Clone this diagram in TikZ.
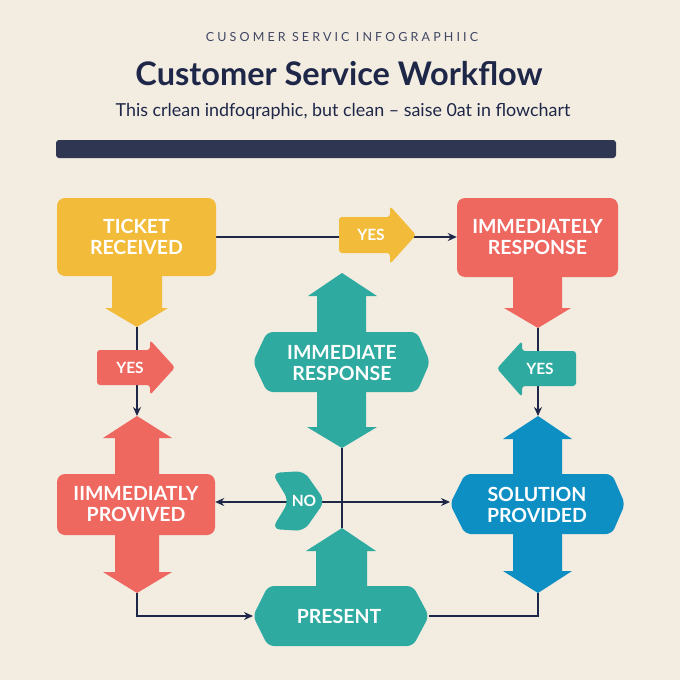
\documentclass[tikz,border=0pt]{standalone}
\usepackage{fontspec}
\setmainfont{Lato}
\newfontfamily\kickerfont[LetterSpace=25]{Lato}
\usetikzlibrary{arrows.meta,backgrounds}

\definecolor{paper}{HTML}{F2ECE1}
\definecolor{navy}{HTML}{1F2748}
\definecolor{barnavy}{HTML}{2E3652}
\definecolor{tyellow}{HTML}{F2BB3A}
\definecolor{tred}{HTML}{EE6860}
\definecolor{tteal}{HTML}{2FAAA0}
\definecolor{tblue}{HTML}{0D8FC4}

\tikzset{
    flowline/.style={draw=navy, line width=1.4pt},
    flowarrow/.style={flowline, -{Stealth[length=9pt,width=8pt]}},
    boxlabel/.style={text=white, align=center, font=\bfseries\fontsize{19.5}{21}\selectfont},
    taglabel/.style={text=white, font=\bfseries\fontsize{15.5}{16}\selectfont},
    roundbox/.style={rounded corners=8pt, inner sep=0pt, boxlabel}
}

\begin{document}
\begin{tikzpicture}[x=1pt,y=-1pt]
    \begin{pgfonlayer}{background}
        \fill[paper] (0,0) rectangle (680,680);
    \end{pgfonlayer}
    \useasboundingbox (0,0) rectangle (680,680);

    % header
    \node[text=navy!85, font=\kickerfont\fontsize{12.5}{13}\selectfont] (kicker) at (342,37) {CUSOMER SERVIC INFOGRAPHIIC};
    \node[text=navy, font=\bfseries\fontsize{32.5}{34}\selectfont] (title) at (339,74) {Customer Service Workflow};
    \node[text=navy, font=\fontsize{17.9}{19}\selectfont] (subtitle) at (343,111) {This crlean indfoqraphic, but clean -- saise 0at in flowchart};
    \fill[barnavy, rounded corners=3pt] (56,140) rectangle (616,158);

    % ticket received
    \fill[tyellow] 
        (112,270) -- (162,270) -- (162,308) -- (168,308) 
        -- (137,327) -- (105,308) -- (112,308) -- cycle;
    \node[roundbox, fill=tyellow, minimum width=159pt, minimum height=78pt] 
        (ticket) at (136.5,237) {TICKET\\RECEIVED};
    \fill[tyellow, rounded corners=3pt] 
        (339,217) -- (390,217) -- (390,206) -- (416,235) 
        -- (390,264) -- (390,253) -- (339,253) -- cycle;
    \node[taglabel] (yesTop) at (371,235) {YES};

    % immediately response
    \fill[tred] 
        (513,270) -- (562,270) -- (562,308) -- (571,308) 
        -- (538,328) -- (504,308) -- (513,308) -- cycle;
    \node[roundbox, fill=tred, minimum width=161pt, minimum height=79pt] 
        (response) at (537.5,237.5) {IMMEDIATELY\\RESPONSE};

    % left column
    \fill[tred, rounded corners=3pt] 
        (97,350) -- (150,350) -- (150,340) -- (175,367.5) 
        -- (150,395) -- (150,385) -- (97,385) -- cycle;
    \node[taglabel] (yesLeft) at (130,367.5) {YES};
    \fill[tred] 
        (137,416) -- (172,438) -- (159,438) -- (159,480) 
        -- (115,480) -- (115,438) -- (103,438) -- cycle;
    \fill[tred] 
        (115,530) -- (159,530) -- (159,572) -- (172,572) 
        -- (137,593) -- (103,572) -- (115,572) -- cycle;
    \node[roundbox, fill=tred, minimum width=158pt, minimum height=61pt] 
        (provived) at (136,504.5) {IIMMEDIATLY\\PROVIVED};

    % middle column
    \fill[tteal] 
        (342,273) -- (377,296) -- (366,296) -- (366,340) 
        -- (317,340) -- (317,296) -- (308,296) -- cycle;
    \fill[tteal, rounded corners=6pt] 
        (267,332) -- (417,332) -- (430,362) 
        -- (417,392) -- (267,392) -- (253,362) -- cycle;
    \fill[tteal] 
        (317,385) -- (366,385) -- (366,427) -- (377,427) 
        -- (342,448) -- (307,427) -- (317,427) -- cycle;
    \node[boxlabel] (immediate) at (342,363) {IMMEDIATE\\RESPONSE};

    \fill[tteal, rounded corners=8pt] 
        (272,473) -- (304,471) -- (325,501) 
        -- (304,531) -- (272,529) -- (289,501) -- cycle;
    \node[taglabel] (no) at (304,501) {NO};

    \fill[tteal] 
        (342,528) -- (376,551) -- (367,551) -- (367,592) 
        -- (316,592) -- (316,551) -- (306,551) -- cycle;
    \fill[tteal, rounded corners=6pt] 
        (268,586) -- (413,586) -- (429,616) 
        -- (413,646) -- (268,646) -- (253,616) -- cycle;
    \node[boxlabel] (present) at (339,616) {PRESENT};

    % right column
    \fill[tteal, rounded corners=3pt] 
        (576,351) -- (522,351) -- (522,341) -- (497,368.5) 
        -- (522,397) -- (522,386) -- (576,386) -- cycle;
    \node[taglabel] (yesRight) at (540,369) {YES};
    \fill[tblue] 
        (538,416) -- (572,439) -- (562,439) -- (562,480) 
        -- (513,480) -- (513,439) -- (503,439) -- cycle;
    \fill[tblue, rounded corners=6pt] 
        (465,474) -- (612,474) -- (625,504) 
        -- (612,534) -- (465,534) -- (450,504) -- cycle;
    \fill[tblue] 
        (513,528) -- (562,528) -- (562,571) -- (572,571) 
        -- (538,593) -- (503,571) -- (513,571) -- cycle;
    \node[boxlabel] (solution) at (537,505) {SOLUTION\\PROVIDED};

    \coordinate (ticketTip) at (137,327);
    \coordinate (responseTip) at (538,328);
    \coordinate (provivedTop) at (137,416);
    \coordinate (provivedTip) at (137,593);
    \coordinate (immediateTip) at (342,448);
    \coordinate (presentTop) at (342,528);
    \coordinate (presentW) at (253,616);
    \coordinate (presentE) at (429,616);
    \coordinate (solutionTop) at (538,416);
    \coordinate (solutionW) at (450,502);
    \coordinate (solutionTip) at (538,593);
    \coordinate (split) at (342,502);

    \begin{pgfonlayer}{background}
        \draw[flowarrow] (ticket.east) -- (ticket.east -| response.west);
        \draw[flowarrow] (ticketTip) -- (provivedTop);
        \draw[flowarrow] (responseTip) -- (solutionTop);
        \draw[flowline] (immediateTip) -- (presentTop);
        \draw[flowarrow] (split) -- (provived.east |- split);
        \draw[flowarrow] (split) -- (solutionW);
        \draw[flowarrow] (provivedTip) |- (presentW);
        \draw[flowline] (presentE) -| (solutionTip);
    \end{pgfonlayer}
\end{tikzpicture}
\end{document}
